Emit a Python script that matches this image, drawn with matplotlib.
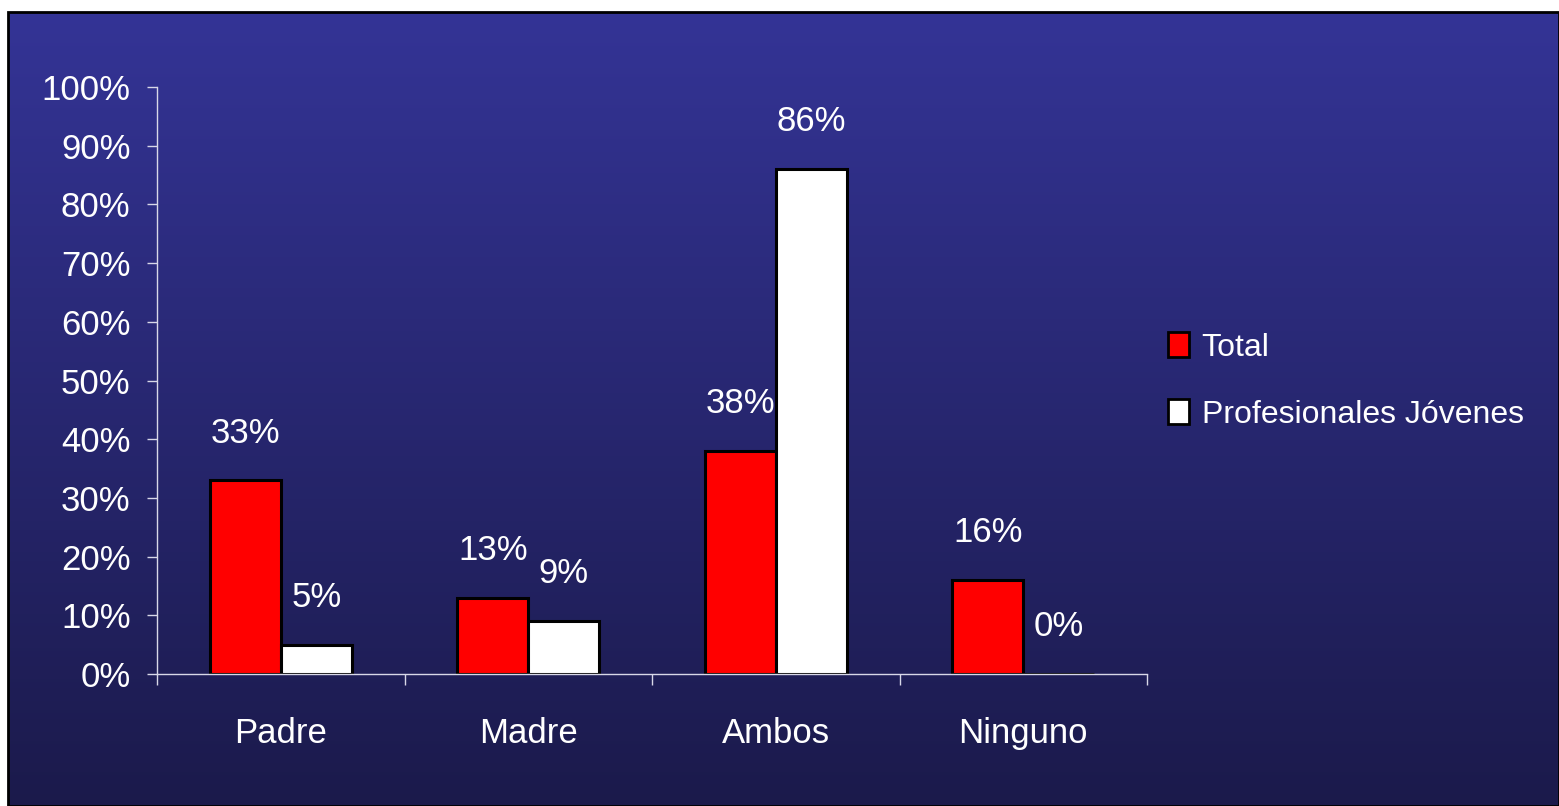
import matplotlib
matplotlib.use("Agg")
import matplotlib.pyplot as plt
import numpy as np
from matplotlib.patches import Rectangle, Patch

categories = ["Padre", "Madre", "Ambos", "Ninguno"]
total = [33, 13, 38, 16]
jovenes = [5, 9, 86, 0]
series_names = ["Total", "Profesionales Jóvenes"]

plt.rcParams["font.family"] = ["Liberation Sans Narrow", "Liberation Sans", "DejaVu Sans"]

W, H = 1559, 806
fig = plt.figure(figsize=(W / 100, H / 100), dpi=100)
fig.patch.set_facecolor("white")

# gradient background inside the black frame
x0, y0 = 8 / W, 0
fw, fh = 1 - x0, 1 - 12 / H
bg = fig.add_axes([x0, y0, fw, fh], zorder=0)
top = np.array([0x34, 0x34, 0x96]) / 255
bot = np.array([0x1b, 0x1a, 0x4b]) / 255
t = np.linspace(0, 1, 256)[:, None]
grad = (top * (1 - t) + bot * t)[:, None, :]
bg.imshow(grad, aspect="auto", extent=[0, 1, 0, 1])
bg.set_xlim(0, 1)
bg.set_ylim(0, 1)
bg.axis("off")
fig.patches.append(Rectangle((x0, y0), fw, fh, transform=fig.transFigure,
                             fill=False, edgecolor="black", linewidth=2, zorder=5))

ax = fig.add_axes([157 / W, 1 - 674 / H, (1147 - 157) / W, (674 - 87) / H], zorder=1)
ax.set_facecolor("none")

x = np.arange(len(categories))
w = 0.287
b1 = ax.bar(x - w / 2, total, w, color="#ff0000", edgecolor="black", linewidth=2.2)
b2 = ax.bar(x + w / 2, jovenes, w, color="white", edgecolor="black", linewidth=2.2)

for bars, vals in [(b1, total), (b2, jovenes)]:
    for rect, v in zip(bars, vals):
        ax.annotate(f"{v}%", (rect.get_x() + rect.get_width() / 2, v),
                    xytext=(0, 34), textcoords="offset points",
                    ha="center", va="center", color="white", fontsize=25)

ax.set_xlim(-0.5, len(categories) - 0.5)
ax.set_ylim(0, 100)
ax.set_yticks(np.arange(0, 101, 10))
ax.set_yticklabels([f"{v}%" for v in range(0, 101, 10)])
ax.set_xticks(x)
ax.set_xticklabels(categories)
ax.set_xticks(np.arange(-0.5, len(categories), 1), minor=True)

for s in ["top", "right"]:
    ax.spines[s].set_visible(False)
for s in ["left", "bottom"]:
    ax.spines[s].set_color("#d8d8e8")
    ax.spines[s].set_linewidth(1)

ax.tick_params(axis="y", colors="#d8d8e8", labelcolor="white", labelsize=25,
               length=7, width=1, pad=12)
ax.tick_params(axis="x", which="major", length=0, labelcolor="white",
               labelsize=25, pad=31)
ax.tick_params(axis="x", which="minor", length=8, width=1, colors="#d8d8e8")

handles = [Patch(facecolor="#ff0000", edgecolor="black", linewidth=2),
           Patch(facecolor="white", edgecolor="black", linewidth=2)]
leg = fig.legend(handles, series_names, loc="center left",
                 bbox_to_anchor=(1168 / W, 1 - 381 / H), frameon=False,
                 borderpad=0, borderaxespad=0,
                 fontsize=23, labelcolor="white", handlelength=0.65,
                 handleheight=0.8, handletextpad=0.4, labelspacing=1.15)

fig.savefig("out.png", dpi=100)
